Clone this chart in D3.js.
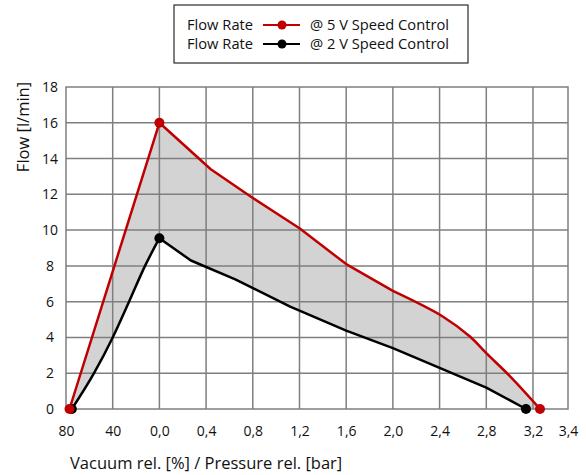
<!DOCTYPE html>
<meta charset="utf-8">
<script src="https://d3js.org/d3.v7.min.js"></script>
<style>
  body { margin: 0; background: #fff; }
  text { font-family: "Open Sans", sans-serif; fill: #111; }
</style>
<div id="chart"></div>
<script>
  // axis ticks
  var xTickValues = [-0.8, -0.4, 0, 0.4, 0.8, 1.2, 1.6, 2.0, 2.4, 2.8, 3.2, 3.5];
  var xTickLabels = ["80", "40", "0,0", "0,4", "0,8", "1,2", "1,6", "2,0", "2,4", "2,8", "3,2", "3,4"];
  var yTickValues = [0, 2, 4, 6, 8, 10, 12, 14, 16, 18];

  // flow rate @ 5 V speed control
  var redX = [-0.77, 0, 0.44, 0.8, 1.2, 1.6, 2.0, 2.43, 2.66, 2.8, 3.0, 3.26];
  var redY = [0, 16, 13.4, 11.8, 10.1, 8.1, 6.6, 5.16, 4.05, 3.12, 1.85, 0];
  // flow rate @ 2 V speed control
  var blackX = [-0.75, -0.56, -0.40, -0.26, -0.123, 0, 0.27, 0.65, 1.12, 1.6, 2.0, 2.4, 2.8, 3.14];
  var blackY = [0, 2, 4, 6, 8, 9.55, 8.3, 7.25, 5.72, 4.38, 3.4, 2.3, 1.2, 0];

  // marker points (ends and peak)
  var redMarks = [0, 1, 11];
  var blackMarks = [0, 5, 13];

  var W = 586, H = 475;
  var margin = {top: 87, right: 18, bottom: 66, left: 66};
  var width = W - margin.left - margin.right,
      height = H - margin.top - margin.bottom;

  var svg = d3.select("#chart").append("svg")
      .attr("width", W)
      .attr("height", H);

  var g = svg.append("g")
      .attr("transform", "translate(" + margin.left + "," + margin.top + ")");

  var x = d3.scaleLinear().domain([-0.8, 3.5]).range([0, width]);
  var y = d3.scaleLinear().domain([0, 18]).range([height, 0]);

  var red = redX.map(function(v, i) { return [v, redY[i]]; });
  var black = blackX.map(function(v, i) { return [v, blackY[i]]; });

  function gen(curve) {
    return d3.line()
      .x(function(d) { return x(d[0]); })
      .y(function(d) { return y(d[1]); })
      .curve(curve);
  }
  var straight = gen(d3.curveLinear),
      smooth = gen(d3.curveMonotoneX),
      spline = gen(d3.curveCatmullRom.alpha(0.5));

  // red: straight up to 2.0 bar, smooth tail; black: smooth rise, straight fall
  var redD = straight(red.slice(0, 7)) + spline(red.slice(6)).replace(/^M/, "L");
  var blackD = smooth(black.slice(0, 6)) + straight(black.slice(5)).replace(/^M/, "L");

  var areaLayer = g.append("g");
  var gridLayer = g.append("g");
  var lineLayer = g.append("g");

  var blackPath = lineLayer.append("path")
      .attr("d", blackD)
      .attr("fill", "none").attr("stroke", "#000").attr("stroke-width", 2.5)
      .attr("stroke-linejoin", "round");
  var redPath = lineLayer.append("path")
      .attr("d", redD)
      .attr("fill", "none").attr("stroke", "#c00000").attr("stroke-width", 2.5)
      .attr("stroke-linejoin", "round");

  // grey area between the curves, built from the drawn paths
  function sample(p, n) {
    var node = p.node(), L = node.getTotalLength(), pts = [];
    for (var i = 0; i <= n; i++) {
      var q = node.getPointAtLength(L * i / n);
      pts.push([q.x, q.y]);
    }
    return pts;
  }
  var poly = sample(redPath, 400).concat(sample(blackPath, 400).reverse());
  areaLayer.append("path")
      .attr("d", "M" + poly.join("L") + "Z")
      .attr("fill", "#d3d3d3");

  // grid
  gridLayer.selectAll(".vgrid")
    .data(xTickValues.slice(1, -1))
    .enter().append("line")
      .attr("x1", function(d) { return x(d); })
      .attr("x2", function(d) { return x(d); })
      .attr("y1", 0).attr("y2", height)
      .attr("stroke", "#7f7f7f").attr("stroke-width", 1.5);
  gridLayer.selectAll(".hgrid")
    .data(yTickValues.slice(1, -1))
    .enter().append("line")
      .attr("x1", 0).attr("x2", width)
      .attr("y1", function(d) { return y(d); })
      .attr("y2", function(d) { return y(d); })
      .attr("stroke", "#7f7f7f").attr("stroke-width", 1.5);
  gridLayer.append("rect")
      .attr("width", width).attr("height", height)
      .attr("fill", "none")
      .attr("stroke", "#7f7f7f").attr("stroke-width", 1.5);

  // axes (labels only)
  var xAxis = g.append("g")
      .attr("transform", "translate(0," + height + ")")
      .call(d3.axisBottom(x).tickValues(xTickValues)
        .tickFormat(function(d, i) { return xTickLabels[i]; })
        .tickSize(0).tickPadding(17));
  xAxis.select(".domain").remove();
  xAxis.selectAll("text")
      .style("font-family", "Open Sans").style("font-size", "14px").attr("fill", "#111");

  var yAxis = g.append("g")
      .call(d3.axisLeft(y).tickValues(yTickValues).tickSize(0).tickPadding(0));
  yAxis.select(".domain").remove();
  yAxis.selectAll("text")
      .attr("text-anchor", "middle").attr("x", -16)
      .style("font-family", "Open Sans").style("font-size", "14px").attr("fill", "#111");

  // markers
  lineLayer.selectAll(".bm")
    .data(blackMarks.map(function(i) { return black[i]; }))
    .enter().append("circle")
      .attr("cx", function(d) { return x(d[0]); })
      .attr("cy", function(d) { return y(d[1]); })
      .attr("r", 5).attr("fill", "#000");
  lineLayer.selectAll(".rm")
    .data(redMarks.map(function(i) { return red[i]; }))
    .enter().append("circle")
      .attr("cx", function(d) { return x(d[0]); })
      .attr("cy", function(d) { return y(d[1]); })
      .attr("r", 5).attr("fill", "#c00000");

  // axis titles
  svg.append("text")
      .attr("transform", "translate(29,127)rotate(-90)")
      .attr("text-anchor", "middle")
      .style("font-size", "16.5px")
      .text("Flow [l/min]");
  svg.append("text")
      .attr("x", 70).attr("y", 469)
      .style("font-size", "16.5px")
      .text("Vacuum rel. [%] / Pressure rel. [bar]");

  // legend
  var legend = svg.append("g");
  legend.append("rect")
      .attr("x", 174).attr("y", 5).attr("width", 294).attr("height", 58)
      .attr("fill", "#fff").attr("stroke", "#000").attr("stroke-width", 1);
  var items = [
    {color: "#c00000", label: "@ 5 V Speed Control"},
    {color: "#000", label: "@ 2 V Speed Control"}
  ];
  items.forEach(function(it, i) {
    var yy = 25 + i * 19;
    legend.append("text").attr("x", 187).attr("y", yy + 5)
        .style("font-size", "14.7px").text("Flow Rate");
    legend.append("line")
        .attr("x1", 263).attr("x2", 300).attr("y1", yy).attr("y2", yy)
        .attr("stroke", it.color).attr("stroke-width", 2);
    legend.append("circle").attr("cx", 282).attr("cy", yy).attr("r", 4.5).attr("fill", it.color);
    legend.append("text").attr("x", 310).attr("y", yy + 5)
        .style("font-size", "14.7px").text(it.label);
  });
</script>
